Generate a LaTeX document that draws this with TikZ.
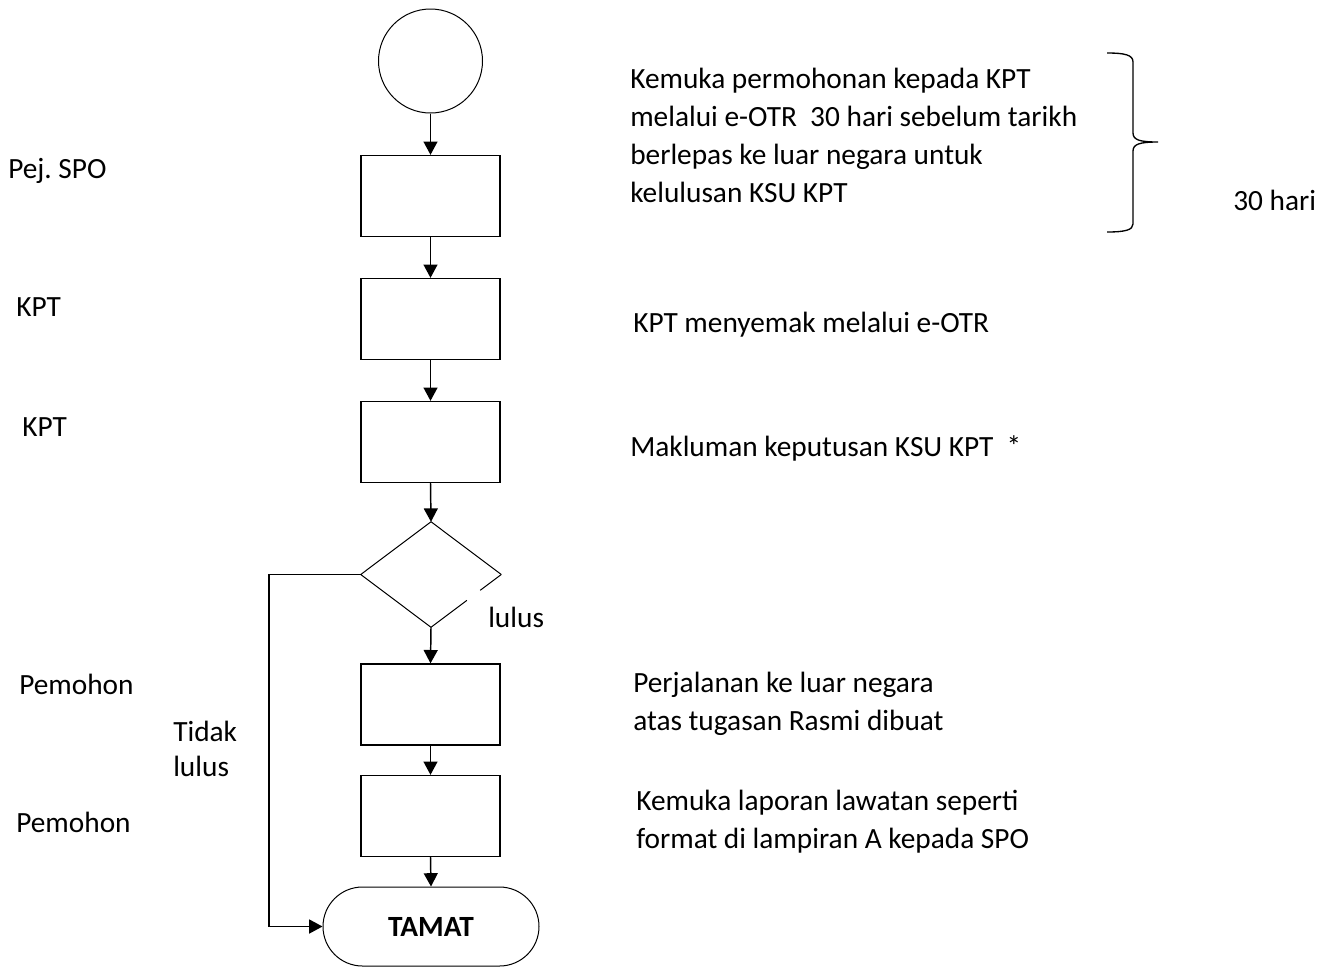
\documentclass[tikz,border=0pt]{standalone}
\usepackage{fontspec}
\setmainfont{Carlito}
\frenchspacing
\usetikzlibrary{shapes.geometric,shapes.misc,arrows.meta,calc}
\begin{document}
\begin{tikzpicture}[x=0.75pt,y=-0.75pt,
  lbl/.style={font=\fontsize{22}{28.5}\selectfont, inner sep=0pt, anchor=base west, align=left},
  procbox/.style={draw, line width=1pt, minimum width=104.25pt, minimum height=60.75pt, inner sep=0pt},
  arr/.style={line width=1.1pt, -{Triangle[length=10pt,width=10.5pt]}},
  thin/.style={line width=0.75pt}]
\useasboundingbox (0,0) rectangle (1333,968);

% flow shapes
\node[circle, draw, thin, minimum size=78pt, inner sep=0pt] (start) at (430.5,61) {};
\node[procbox] (b1) at (430.5,196) {};
\node[procbox] (b2) at (430.5,319) {};
\node[procbox] (b3) at (430.5,442) {};
\node[diamond, minimum width=105pt, minimum height=78.75pt, inner sep=0pt] (dec) at (431,574.5) {};
\node[procbox] (b4) at (430.5,704.5) {};
\node[procbox] (b5) at (430.5,816) {};
\node[rounded rectangle, draw, thin, minimum width=162pt, minimum height=59.25pt, inner sep=0pt,
      font=\fontsize{22}{24}\selectfont\bfseries] (end) at (431,926.5) {TAMAT};

% diamond outline with small gap on lower-right edge
\draw[thin] (dec.east) -- (dec.north) -- (dec.west) -- (dec.south) -- ($(dec.south)!0.51!(dec.east)$);
\draw[thin] ($(dec.south)!0.70!(dec.east)$) -- (dec.east);

% connectors
\draw[arr] (start.south) -- (b1.north);
\draw[arr] (b1.south) -- (b2.north);
\draw[arr] (b2.south) -- (b3.north);
\draw[arr] (b3.south) -- (dec.north);
\draw[arr] (dec.south) -- (b4.north);
\draw[arr] (b4.south) -- (b5.north);
\draw[arr] (b5.south) -- (end.north);
\coordinate (lx) at (269,0);
\draw[arr] (dec.west) -- (lx |- dec.west) |- (end.west);

% left labels
\node[lbl] (l1) at (8,178) {Pej. SPO};
\node[lbl] (l2) at (16,316) {KPT};
\node[lbl] (l3) at (22,436) {KPT};
\node[lbl] (l4) at (19,694) {Pemohon};
\node[lbl] (l5) at (16,832) {Pemohon};
\node[lbl, font=\fontsize{22}{26.25}\selectfont] (tl) at (173,776) {Tidak\\lulus};
\node[lbl] (ll) at (488,627) {lulus};

% right descriptions (anchor = baseline of last line)
\node[lbl] (r1) at (630,202) {Kemuka permohonan kepada KPT\\melalui e-OTR\ \ 30 hari sebelum tarikh\\berlepas ke luar negara untuk\\kelulusan KSU KPT};
\node[lbl] (r2) at (633,332) {KPT menyemak melalui e-OTR};
\node[lbl] (r3) at (630,456) {Makluman keputusan KSU KPT\ \ *};
\node[lbl] (r4) at (633,730) {Perjalanan ke luar negara\\atas tugasan Rasmi dibuat};
\node[lbl] (r5) at (636,848) {Kemuka laporan lawatan seperti\\format di lampiran A kepada SPO};
\node[lbl] (r6) at (1233,210) {30 hari};

% brace
\draw[line width=1pt] (1107,53) .. controls (1125,53) and (1133,55) .. (1133,62)
  -- (1133,133) .. controls (1133,140) and (1140,142) .. (1158,142)
  .. controls (1140,142) and (1133,144) .. (1133,151)
  -- (1133,224) .. controls (1133,230) and (1125,232) .. (1107,232);
\end{tikzpicture}
\end{document}
